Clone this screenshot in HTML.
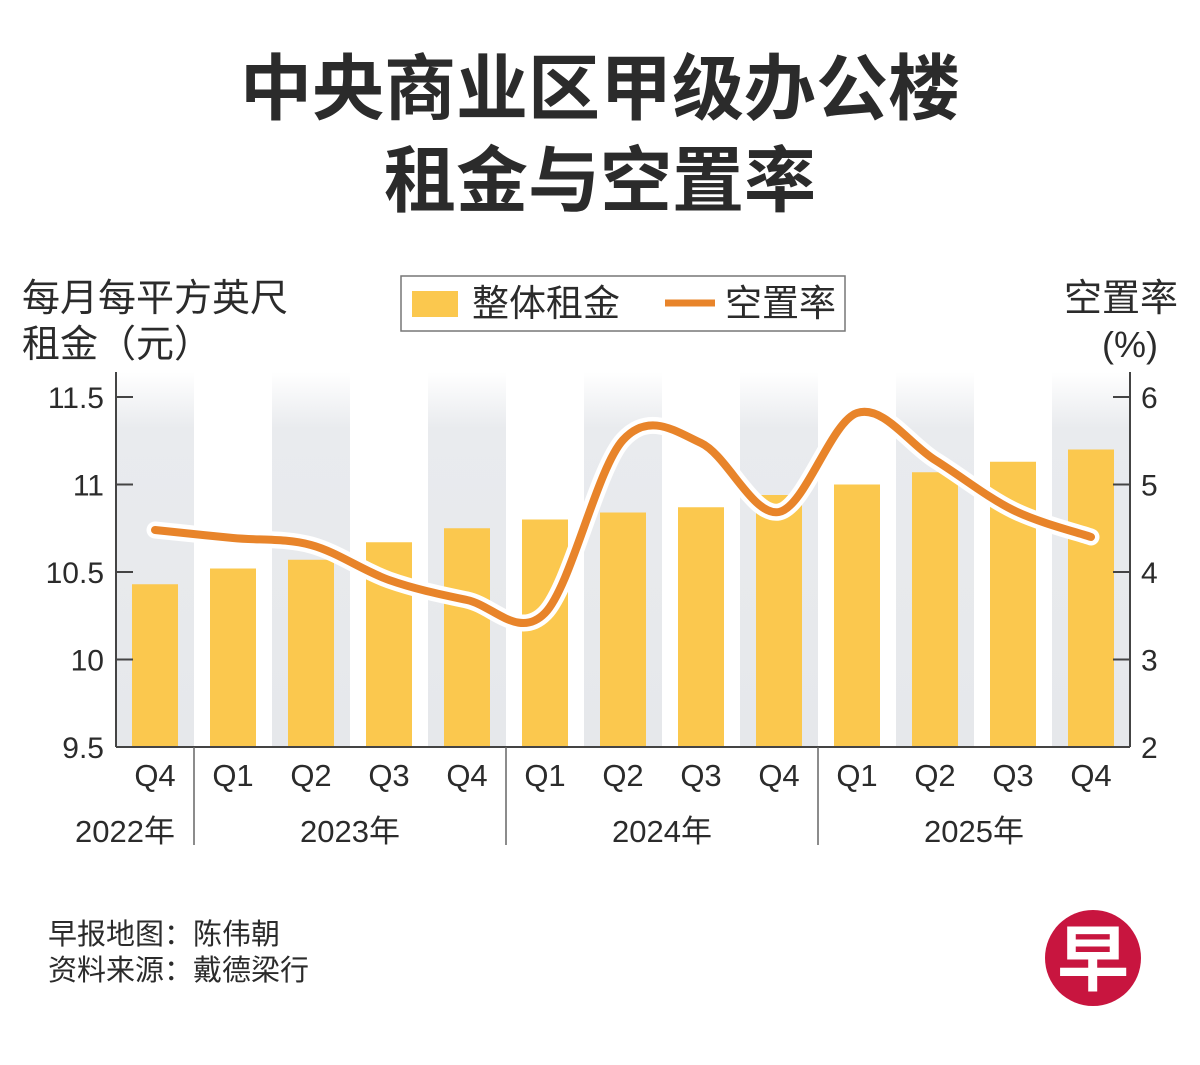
<!DOCTYPE html>
<html><head><meta charset="utf-8"><style>
body{margin:0;width:1200px;height:1060px;background:#fff;overflow:hidden;font-family:"Liberation Sans","Noto Sans CJK SC",sans-serif;}
</style></head><body>
<svg id="s" width="1200" height="1060" xmlns="http://www.w3.org/2000/svg" style="font-family:'Liberation Sans','Noto Sans CJK SC',sans-serif">
<defs><linearGradient id="g" x1="0" y1="0" x2="0" y2="1"><stop offset="0" stop-color="#e9ebee" stop-opacity="0"/><stop offset="0.15" stop-color="#e9ebee"/><stop offset="1" stop-color="#e6e8eb"/></linearGradient></defs>
<text x="600" y="114" text-anchor="middle" font-size="72" font-weight="bold" fill="#2b2b2b">中央商业区甲级办公楼</text>
<text x="600" y="206" text-anchor="middle" font-size="72" font-weight="bold" fill="#2b2b2b">租金与空置率</text>
<text x="22" y="311" font-size="38" fill="#2b2b2b">每月每平方英尺</text>
<text x="22" y="357" font-size="38" fill="#2b2b2b">租金（元）</text>
<text x="1178" y="311" text-anchor="end" font-size="38" fill="#2b2b2b">空置率</text>
<text x="1158" y="357" text-anchor="end" font-size="36" fill="#2b2b2b">(%)</text>
<rect x="401" y="276" width="444" height="55" fill="#fff" stroke="#777" stroke-width="1.5"/>
<rect x="412" y="291" width="46" height="26" fill="#fbc84e"/>
<text x="472" y="316" font-size="37" fill="#2b2b2b">整体租金</text>
<line x1="665" y1="303" x2="715" y2="303" stroke="#e8842a" stroke-width="7"/>
<text x="725" y="316" font-size="37" fill="#2b2b2b">空置率</text>
<g id="plot"></g>
<text x="48" y="944" font-size="29" fill="#2b2b2b">早报地图：陈伟朝</text>
<text x="48" y="980" font-size="29" fill="#2b2b2b">资料来源：戴德梁行</text>
<circle cx="1093" cy="958" r="48" fill="#c8153f"/>
<text x="1093" y="985" text-anchor="middle" font-size="72" font-weight="bold" fill="#fff">早</text>
</svg>
<script>
var p=document.getElementById('plot'),h='';
var L=116,R=1130,B=747,W=78;
for(var i=0;i<13;i+=2)h+='<rect x="'+(L+i*W)+'" y="372" width="'+W+'" height="'+(B-372)+'" fill="url(#g)"/>';
var bars=[10.43,10.52,10.57,10.67,10.75,10.80,10.84,10.87,10.94,11.00,11.07,11.13,11.20];
var qs=['Q4','Q1','Q2','Q3','Q4','Q1','Q2','Q3','Q4','Q1','Q2','Q3','Q4'];
for(i=0;i<13;i++){var cx=L+W/2+i*W,t=B-(bars[i]-9.5)*175;
h+='<rect x="'+(cx-23)+'" y="'+t+'" width="46" height="'+(B-t)+'" fill="#fbc84e"/>';
h+='<text x="'+cx+'" y="786" text-anchor="middle" font-size="31" fill="#2b2b2b">'+qs[i]+'</text>';}
var ys=[530,538,545,580,600,613,440,443,512,413,460,510,537],pts=[];
for(i=0;i<13;i++)pts.push([L+W/2+i*W,ys[i]]);
var d='M'+pts[0][0]+' '+pts[0][1];
for(i=0;i<12;i++){var p0=pts[Math.max(i-1,0)],p1=pts[i],p2=pts[i+1],p3=pts[Math.min(i+2,12)];
d+=' C'+(p1[0]+(p2[0]-p0[0])/6)+' '+(p1[1]+(p2[1]-p0[1])/6)+' '+(p2[0]-(p3[0]-p1[0])/6)+' '+(p2[1]-(p3[1]-p1[1])/6)+' '+p2[0]+' '+p2[1];}
h+='<path d="'+d+'" fill="none" stroke="#fff" stroke-width="17" stroke-linecap="round" stroke-linejoin="round"/>';
h+='<path d="'+d+'" fill="none" stroke="#e8842a" stroke-width="8" stroke-linecap="round" stroke-linejoin="round"/>';
h+='<line x1="'+L+'" y1="372" x2="'+L+'" y2="'+B+'" stroke="#444" stroke-width="2"/>';
h+='<line x1="'+R+'" y1="372" x2="'+R+'" y2="'+B+'" stroke="#444" stroke-width="2"/>';
h+='<line x1="'+L+'" y1="'+B+'" x2="'+R+'" y2="'+B+'" stroke="#444" stroke-width="2"/>';
var ll=['11.5','11','10.5','10','9.5'],rl=['6','5','4','3','2'];
for(i=0;i<5;i++){var y=397+i*87.5;
h+='<line x1="'+L+'" y1="'+y+'" x2="'+(L+17)+'" y2="'+y+'" stroke="#444" stroke-width="2"/>';
h+='<line x1="'+(R-17)+'" y1="'+y+'" x2="'+R+'" y2="'+y+'" stroke="#444" stroke-width="2"/>';
h+='<text x="104" y="'+(y+11)+'" text-anchor="end" font-size="30" fill="#2b2b2b">'+ll[i]+'</text>';
h+='<text x="1141" y="'+(y+11)+'" font-size="30" fill="#2b2b2b">'+rl[i]+'</text>';}
[194,506,818].forEach(function(x){h+='<line x1="'+x+'" y1="'+B+'" x2="'+x+'" y2="845" stroke="#666" stroke-width="1.5"/>';});
[[125,'2022年'],[350,'2023年'],[662,'2024年'],[974,'2025年']].forEach(function(a){h+='<text x="'+a[0]+'" y="842" text-anchor="middle" font-size="31" fill="#2b2b2b">'+a[1]+'</text>';});
p.innerHTML=h;
</script>
</body></html>
